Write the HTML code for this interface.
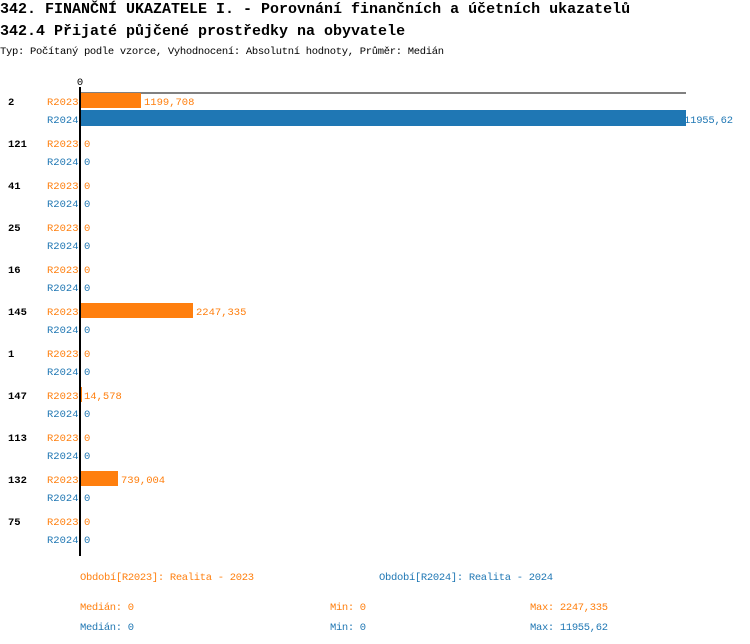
<!DOCTYPE html>
<html><head><meta charset="utf-8"><style>
body{margin:0;background:#fff;}
svg{display:block;font-family:"Liberation Mono",monospace;}
</style></head><body>
<svg width="750" height="644" xmlns="http://www.w3.org/2000/svg">
<text x="0" y="13" font-size="15" font-weight="bold" fill="#000">342. FINANČNÍ UKAZATELE I. - Porovnání finančních a účetních ukazatelů</text>
<text x="0" y="35" font-size="15" font-weight="bold" fill="#000">342.4 Přijaté půjčené prostředky na obyvatele</text>
<text x="0" y="54" font-size="10.5" fill="#000" textLength="444">Typ: Počítaný podle vzorce, Vyhodnocení: Absolutní hodnoty, Průměr: Medián</text>
<text x="80" y="85" font-size="10.5" text-anchor="middle" fill="#000">0</text>
<line x1="80" y1="93" x2="686" y2="93" stroke="#000" stroke-width="1"/>
<g font-size="10.5">
<text x="8" y="105" font-weight="bold">2</text>
<text x="8" y="147" font-weight="bold">121</text>
<text x="8" y="189" font-weight="bold">41</text>
<text x="8" y="231" font-weight="bold">25</text>
<text x="8" y="273" font-weight="bold">16</text>
<text x="8" y="315" font-weight="bold">145</text>
<text x="8" y="357" font-weight="bold">1</text>
<text x="8" y="399" font-weight="bold">147</text>
<text x="8" y="441" font-weight="bold">113</text>
<text x="8" y="483" font-weight="bold">132</text>
<text x="8" y="525" font-weight="bold">75</text>
</g>
<g font-size="10.5" fill="#ff7f0e">
<text x="47" y="105">R2023</text><text x="47" y="147">R2023</text><text x="47" y="189">R2023</text><text x="47" y="231">R2023</text><text x="47" y="273">R2023</text><text x="47" y="315">R2023</text><text x="47" y="357">R2023</text><text x="47" y="399">R2023</text><text x="47" y="441">R2023</text><text x="47" y="483">R2023</text><text x="47" y="525">R2023</text>
<rect x="81" y="93" width="60" height="15"/>
<rect x="81" y="303" width="112" height="15"/>
<rect x="81" y="387" width="1" height="15"/>
<rect x="81" y="471" width="37" height="15"/>
<text x="144" y="105">1199,708</text>
<text x="84" y="147">0</text><text x="84" y="189">0</text><text x="84" y="231">0</text><text x="84" y="273">0</text>
<text x="196" y="315">2247,335</text>
<text x="84" y="357">0</text>
<text x="84" y="399">14,578</text>
<text x="84" y="441">0</text>
<text x="121" y="483">739,004</text>
<text x="84" y="525">0</text>
</g>
<g font-size="10.5" fill="#1f77b4">
<text x="47" y="123">R2024</text><text x="47" y="165">R2024</text><text x="47" y="207">R2024</text><text x="47" y="249">R2024</text><text x="47" y="291">R2024</text><text x="47" y="333">R2024</text><text x="47" y="375">R2024</text><text x="47" y="417">R2024</text><text x="47" y="459">R2024</text><text x="47" y="501">R2024</text><text x="47" y="543">R2024</text>
<rect x="81" y="110" width="605" height="16"/>
<text x="684" y="123" textLength="49">11955,62</text>
<text x="84" y="165">0</text><text x="84" y="207">0</text><text x="84" y="249">0</text><text x="84" y="291">0</text><text x="84" y="333">0</text><text x="84" y="375">0</text><text x="84" y="417">0</text><text x="84" y="459">0</text><text x="84" y="501">0</text><text x="84" y="543">0</text>
</g>
<rect x="79" y="87" width="2" height="469" fill="#000"/>
<g font-size="10.5">
<text x="80" y="580" fill="#ff7f0e" textLength="174">Období[R2023]: Realita - 2023</text>
<text x="379" y="580" fill="#1f77b4" textLength="174">Období[R2024]: Realita - 2024</text>
<text x="80" y="610" fill="#ff7f0e" textLength="54">Medián: 0</text>
<text x="330" y="610" fill="#ff7f0e" textLength="36">Min: 0</text>
<text x="530" y="610" fill="#ff7f0e" textLength="78">Max: 2247,335</text>
<text x="80" y="630" fill="#1f77b4" textLength="54">Medián: 0</text>
<text x="330" y="630" fill="#1f77b4" textLength="36">Min: 0</text>
<text x="530" y="630" fill="#1f77b4" textLength="78">Max: 11955,62</text>
</g>
</svg>
</body></html>
